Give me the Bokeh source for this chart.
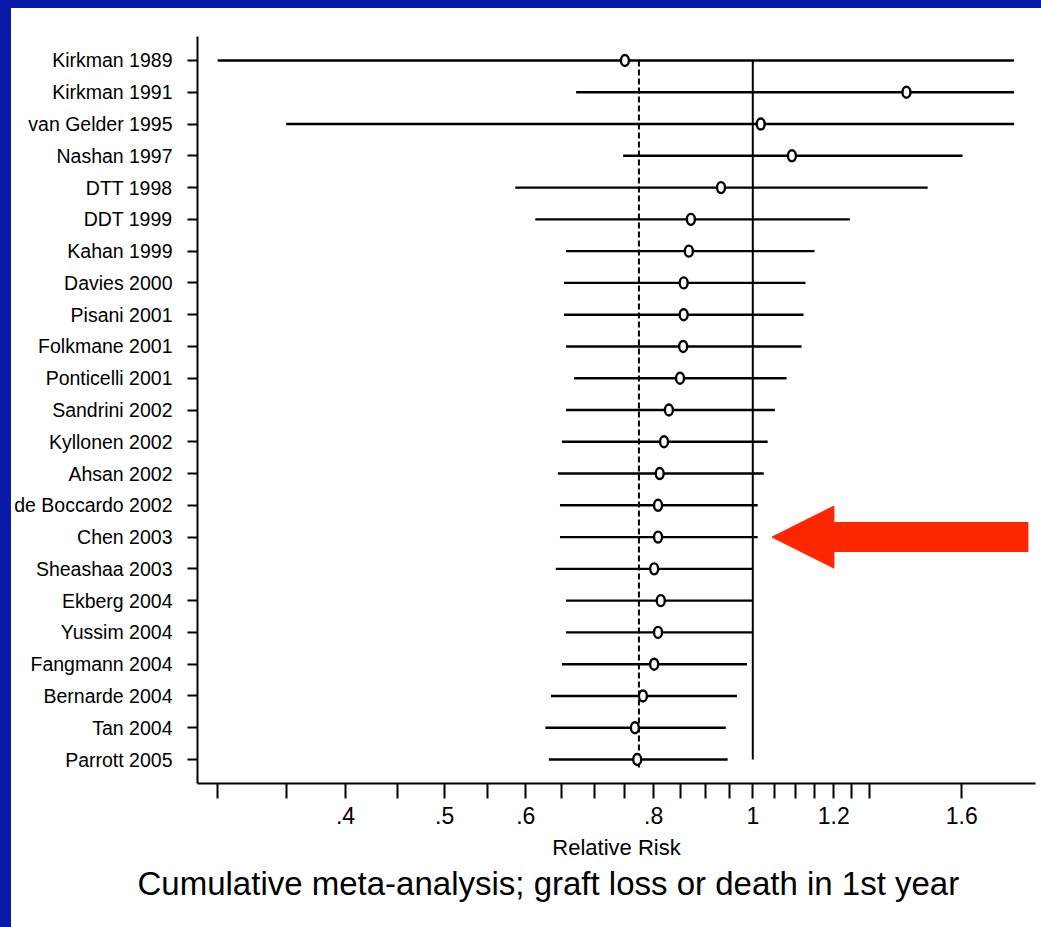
from bokeh.plotting import figure
from bokeh.models import Range1d, FixedTicker, Title, Arrow, NormalHead, ColumnDataSource, Div
from bokeh.layouts import column, row
from bokeh.embed import file_html
from bokeh.resources import INLINE

# ---- data ----
studies = ["Kirkman 1989", "Kirkman 1991", "van Gelder 1995", "Nashan 1997", "DTT 1998",
           "DDT 1999", "Kahan 1999", "Davies 2000", "Pisani 2001", "Folkmane 2001",
           "Ponticelli 2001", "Sandrini 2002", "Kyllonen 2002", "Ahsan 2002",
           "de Boccardo 2002", "Chen 2003", "Sheashaa 2003", "Ekberg 2004", "Yussim 2004",
           "Fangmann 2004", "Bernarde 2004", "Tan 2004", "Parrott 2005"]
rr = [0.750, 1.413, 1.018, 1.092, 0.931, 0.870, 0.866, 0.856, 0.856, 0.855, 0.849, 0.828,
      0.819, 0.811, 0.808, 0.808, 0.801, 0.813, 0.808, 0.801, 0.781, 0.767, 0.771]
lower = [0.300, 0.672, 0.350, 0.747, 0.586, 0.613, 0.657, 0.654, 0.654, 0.657, 0.669, 0.657,
         0.651, 0.645, 0.648, 0.648, 0.642, 0.657, 0.657, 0.651, 0.635, 0.627, 0.632]
upper = [1.80, 1.80, 1.80, 1.603, 1.482, 1.244, 1.149, 1.126, 1.121, 1.116, 1.079, 1.051,
         1.034, 1.025, 1.011, 1.011, 1.000, 1.000, 1.000, 0.987, 0.965, 0.941, 0.945]
pooled_rr = 0.774
null_rr = 1.0
x_ticks = [0.3, 0.35, 0.4, 0.45, 0.5, 0.55, 0.6, 0.65, 0.7, 0.75, 0.8, 0.85, 0.9, 0.95,
           1.0, 1.05, 1.1, 1.15, 1.2, 1.25, 1.3, 1.6]
x_tick_labels = {0.4: ".4", 0.5: ".5", 0.6: ".6", 0.8: ".8", 1.0: "1", 1.2: "1.2", 1.6: "1.6"}
highlight_row = 16          # Chen 2003 (arrow)
arrow_from, arrow_to = 1.859, 1.044

rows = list(range(1, len(studies) + 1))
src = ColumnDataSource(dict(y=rows, rr=rr, lo=lower, hi=upper))

FONT = "Liberation Sans"
BLUE = "#0a1aa8"

p = figure(width=1030, height=919, x_axis_type="log",
           x_range=Range1d(0.2867, 1.889), y_range=Range1d(len(studies) + 0.755, 0.245),
           output_backend="svg", toolbar_location=None,
           min_border_left=185, min_border_right=6, min_border_top=28, min_border_bottom=144)
p.outline_line_color = None
p.xgrid.visible = False
p.ygrid.visible = False
p.background_fill_color = "white"
p.border_fill_color = "white"

# reference lines
p.segment(x0=[pooled_rr], y0=[1], x1=[pooled_rr], y1=[len(studies) + 0.25],
          line_color="black", line_width=2, line_dash="6 3")
p.segment(x0=[null_rr], y0=[1], x1=[null_rr], y1=[len(studies)],
          line_color="black", line_width=2)

# CIs and points
p.segment(x0="lo", y0="y", x1="hi", y1="y", source=src, line_color="black", line_width=2.4)
p.ellipse(x="rr", y="y", width=8, height=11, width_units="screen", height_units="screen",
          source=src, fill_color="white", line_color="black", line_width=2.4)

# axes
xa = p.xaxis[0]
xa.ticker = FixedTicker(ticks=x_ticks)
xa.major_label_overrides = {t: x_tick_labels.get(t, "") for t in x_ticks}
xa.minor_tick_line_color = None
xa.major_tick_out = 15
xa.major_tick_in = 0
xa.major_tick_line_width = 2
xa.axis_line_width = 2
xa.major_label_text_font = FONT
xa.major_label_text_font_size = "23px"
xa.major_label_text_color = "black"
xa.major_label_standoff = 8
xa.axis_label = "Relative Risk"
xa.axis_label_text_font = FONT
xa.axis_label_text_font_size = "22px"
xa.axis_label_text_font_style = "normal"
xa.axis_label_text_color = "black"
xa.axis_label_standoff = 8

ya = p.yaxis[0]
ya.ticker = FixedTicker(ticks=rows)
ya.major_label_overrides = {r: s for r, s in zip(rows, studies)}
ya.minor_tick_line_color = None
ya.major_tick_out = 10
ya.major_tick_in = 0
ya.major_tick_line_width = 2
ya.axis_line_width = 2
ya.major_label_text_font = FONT
ya.major_label_text_font_size = "19.5px"
ya.major_label_text_color = "black"
ya.major_label_standoff = 15

cap = Title(text="Cumulative meta-analysis; graft loss or death in 1st year",
            align="left", offset=-60, text_font=FONT, text_font_size="33px",
            text_font_style="normal", text_color="black", standoff=0)
p.add_layout(cap, "below")

red = "#FF2600"
p.add_layout(Arrow(end=NormalHead(size=62, fill_color=red, line_color=red, line_width=1),
                   x_start=arrow_from, y_start=highlight_row, x_end=arrow_to, y_end=highlight_row,
                   line_color=red, line_width=30))

top_bar = Div(width=1041, height=8, margin=0, styles={"background-color": BLUE})
left_bar = Div(width=11, height=919, margin=0, styles={"background-color": BLUE})
page = column(top_bar, row(left_bar, p, spacing=0), spacing=0)

open("out.html", "w").write(file_html(page, INLINE))
